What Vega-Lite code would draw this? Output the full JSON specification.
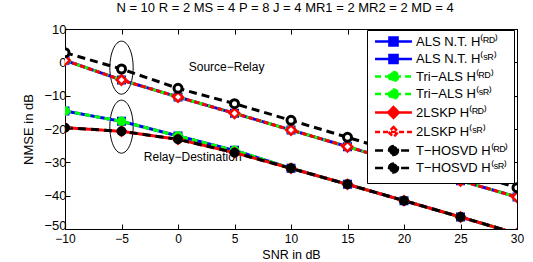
{
  "$schema": "https://vega.github.io/schema/vega-lite/v6.json",
  "width": 452,
  "height": 200,
  "autosize": "none",
  "padding": {"left": 65, "top": 29, "right": 16, "bottom": 33},
  "title": {"text": "N = 10 R = 2 MS = 4 P = 8 J = 4 MR1 = 2 MR2 = 2 MD = 4", "fontSize": 13, "font": "Liberation Sans", "fontWeight": "normal", "color": "black", "anchor": "middle", "dx": -6, "offset": 8},
  "config": {
    "font": "Liberation Sans",
    "view": {"stroke": "black", "strokeWidth": 1},
    "axis": {"grid": false, "domainColor": "black", "domainWidth": 1, "tickColor": "black", "tickWidth": 1, "tickSize": -5, "labelColor": "black", "labelFontSize": 13, "labelFont": "Liberation Sans", "titleFont": "Liberation Sans", "titleFontSize": 13, "titleFontWeight": "normal", "titleColor": "black", "labelPadding": 4}
  },
  "datasets": {
    "curves": [
      {"series": "ALS N.T. H⁽ᴿᴰ⁾", "snr": -10, "nmse": -14.6}, {"series": "ALS N.T. H⁽ᴿᴰ⁾", "snr": -5, "nmse": -17.7}, {"series": "ALS N.T. H⁽ᴿᴰ⁾", "snr": 0, "nmse": -22.1}, {"series": "ALS N.T. H⁽ᴿᴰ⁾", "snr": 5, "nmse": -26.4}, {"series": "ALS N.T. H⁽ᴿᴰ⁾", "snr": 10, "nmse": -31.8}, {"series": "ALS N.T. H⁽ᴿᴰ⁾", "snr": 15, "nmse": -36.6}, {"series": "ALS N.T. H⁽ᴿᴰ⁾", "snr": 20, "nmse": -41.5}, {"series": "ALS N.T. H⁽ᴿᴰ⁾", "snr": 25, "nmse": -46.4}, {"series": "ALS N.T. H⁽ᴿᴰ⁾", "snr": 30, "nmse": -51.4},
      {"series": "ALS N.T. H⁽ˢᴿ⁾", "snr": -10, "nmse": 0.6}, {"series": "ALS N.T. H⁽ˢᴿ⁾", "snr": -5, "nmse": -5.3}, {"series": "ALS N.T. H⁽ˢᴿ⁾", "snr": 0, "nmse": -10.4}, {"series": "ALS N.T. H⁽ˢᴿ⁾", "snr": 5, "nmse": -15.3}, {"series": "ALS N.T. H⁽ˢᴿ⁾", "snr": 10, "nmse": -20.3}, {"series": "ALS N.T. H⁽ˢᴿ⁾", "snr": 15, "nmse": -25.3}, {"series": "ALS N.T. H⁽ˢᴿ⁾", "snr": 20, "nmse": -30.4}, {"series": "ALS N.T. H⁽ˢᴿ⁾", "snr": 25, "nmse": -35.5}, {"series": "ALS N.T. H⁽ˢᴿ⁾", "snr": 30, "nmse": -40.4},
      {"series": "Tri−ALS H⁽ᴿᴰ⁾", "snr": -10, "nmse": -14.6}, {"series": "Tri−ALS H⁽ᴿᴰ⁾", "snr": -5, "nmse": -17.7}, {"series": "Tri−ALS H⁽ᴿᴰ⁾", "snr": 0, "nmse": -22.1}, {"series": "Tri−ALS H⁽ᴿᴰ⁾", "snr": 5, "nmse": -26.4}, {"series": "Tri−ALS H⁽ᴿᴰ⁾", "snr": 10, "nmse": -31.8}, {"series": "Tri−ALS H⁽ᴿᴰ⁾", "snr": 15, "nmse": -36.6}, {"series": "Tri−ALS H⁽ᴿᴰ⁾", "snr": 20, "nmse": -41.5}, {"series": "Tri−ALS H⁽ᴿᴰ⁾", "snr": 25, "nmse": -46.4}, {"series": "Tri−ALS H⁽ᴿᴰ⁾", "snr": 30, "nmse": -51.4},
      {"series": "Tri−ALS H⁽ˢᴿ⁾", "snr": -10, "nmse": 0.6}, {"series": "Tri−ALS H⁽ˢᴿ⁾", "snr": -5, "nmse": -5.3}, {"series": "Tri−ALS H⁽ˢᴿ⁾", "snr": 0, "nmse": -10.4}, {"series": "Tri−ALS H⁽ˢᴿ⁾", "snr": 5, "nmse": -15.3}, {"series": "Tri−ALS H⁽ˢᴿ⁾", "snr": 10, "nmse": -20.3}, {"series": "Tri−ALS H⁽ˢᴿ⁾", "snr": 15, "nmse": -25.3}, {"series": "Tri−ALS H⁽ˢᴿ⁾", "snr": 20, "nmse": -30.4}, {"series": "Tri−ALS H⁽ˢᴿ⁾", "snr": 25, "nmse": -35.5}, {"series": "Tri−ALS H⁽ˢᴿ⁾", "snr": 30, "nmse": -40.4},
      {"series": "2LSKP H⁽ᴿᴰ⁾", "snr": -10, "nmse": -19.6}, {"series": "2LSKP H⁽ᴿᴰ⁾", "snr": -5, "nmse": -20.7}, {"series": "2LSKP H⁽ᴿᴰ⁾", "snr": 0, "nmse": -23.1}, {"series": "2LSKP H⁽ᴿᴰ⁾", "snr": 5, "nmse": -27.1}, {"series": "2LSKP H⁽ᴿᴰ⁾", "snr": 10, "nmse": -31.8}, {"series": "2LSKP H⁽ᴿᴰ⁾", "snr": 15, "nmse": -36.6}, {"series": "2LSKP H⁽ᴿᴰ⁾", "snr": 20, "nmse": -41.5}, {"series": "2LSKP H⁽ᴿᴰ⁾", "snr": 25, "nmse": -46.4}, {"series": "2LSKP H⁽ᴿᴰ⁾", "snr": 30, "nmse": -51.4},
      {"series": "2LSKP H⁽ˢᴿ⁾", "snr": -10, "nmse": 0.6}, {"series": "2LSKP H⁽ˢᴿ⁾", "snr": -5, "nmse": -5.3}, {"series": "2LSKP H⁽ˢᴿ⁾", "snr": 0, "nmse": -10.4}, {"series": "2LSKP H⁽ˢᴿ⁾", "snr": 5, "nmse": -15.3}, {"series": "2LSKP H⁽ˢᴿ⁾", "snr": 10, "nmse": -20.3}, {"series": "2LSKP H⁽ˢᴿ⁾", "snr": 15, "nmse": -25.3}, {"series": "2LSKP H⁽ˢᴿ⁾", "snr": 20, "nmse": -30.4}, {"series": "2LSKP H⁽ˢᴿ⁾", "snr": 25, "nmse": -35.5}, {"series": "2LSKP H⁽ˢᴿ⁾", "snr": 30, "nmse": -40.4},
      {"series": "T−HOSVD H⁽ᴿᴰ⁾", "snr": -10, "nmse": -19.6}, {"series": "T−HOSVD H⁽ᴿᴰ⁾", "snr": -5, "nmse": -20.7}, {"series": "T−HOSVD H⁽ᴿᴰ⁾", "snr": 0, "nmse": -23.1}, {"series": "T−HOSVD H⁽ᴿᴰ⁾", "snr": 5, "nmse": -27.1}, {"series": "T−HOSVD H⁽ᴿᴰ⁾", "snr": 10, "nmse": -31.8}, {"series": "T−HOSVD H⁽ᴿᴰ⁾", "snr": 15, "nmse": -36.6}, {"series": "T−HOSVD H⁽ᴿᴰ⁾", "snr": 20, "nmse": -41.5}, {"series": "T−HOSVD H⁽ᴿᴰ⁾", "snr": 25, "nmse": -46.4}, {"series": "T−HOSVD H⁽ᴿᴰ⁾", "snr": 30, "nmse": -51.4},
      {"series": "T−HOSVD H⁽ˢᴿ⁾", "snr": -10, "nmse": 2.9}, {"series": "T−HOSVD H⁽ˢᴿ⁾", "snr": -5, "nmse": -2.0}, {"series": "T−HOSVD H⁽ˢᴿ⁾", "snr": 0, "nmse": -7.8}, {"series": "T−HOSVD H⁽ˢᴿ⁾", "snr": 5, "nmse": -12.4}, {"series": "T−HOSVD H⁽ˢᴿ⁾", "snr": 10, "nmse": -17.4}, {"series": "T−HOSVD H⁽ˢᴿ⁾", "snr": 15, "nmse": -22.5}, {"series": "T−HOSVD H⁽ˢᴿ⁾", "snr": 20, "nmse": -27.6}, {"series": "T−HOSVD H⁽ˢᴿ⁾", "snr": 25, "nmse": -32.6}, {"series": "T−HOSVD H⁽ˢᴿ⁾", "snr": 30, "nmse": -37.6}
    ],
    "ellipses": [{"snr": -5, "nmse": -1.6}, {"snr": -5, "nmse": -19.3}],
    "notes": [{"snr": 4.3, "nmse": -1.5, "label": "Source−Relay"}, {"snr": 1.3, "nmse": -28.3, "label": "Relay−Destination"}]
  },
  "resolve": {"axis": {"x": "independent", "y": "independent"}},
  "layer": [
    {
      "data": {"name": "ellipses"},
      "mark": {"type": "point", "shape": "M0,-1A0.44,1 0 1,1 0,1A0.44,1 0 1,1 0,-1Z", "size": 2809, "filled": false, "stroke": "black", "strokeWidth": 1, "opacity": 1},
      "encoding": {
        "x": {"field": "snr", "type": "quantitative", "axis": null, "scale": {"domain": [-10, 30], "nice": false}},
        "y": {"field": "nmse", "type": "quantitative", "axis": null, "scale": {"domain": [-50, 10], "nice": false}}
      }
    },
    {
      "data": {"name": "notes"},
      "mark": {"type": "text", "fontSize": 12, "font": "Liberation Sans", "color": "black"},
      "encoding": {
        "x": {"field": "snr", "type": "quantitative", "axis": null},
        "y": {"field": "nmse", "type": "quantitative", "axis": null},
        "text": {"field": "label"}
      }
    },
    {
      "data": {"name": "curves"},
      "mark": {"type": "line", "strokeWidth": 3, "clip": true},
      "encoding": {
        "x": {"field": "snr", "type": "quantitative", "title": "SNR in dB", "axis": {"values": [-10, -5, 0, 5, 10, 15, 20, 25, 30], "labelFlush": false, "labelFontSize": 12, "labelPadding": 9, "titleFontSize": 12.5, "titleY": 29, "titleBaseline": "alphabetic"}},
        "y": {"field": "nmse", "type": "quantitative", "title": "NMSE in dB", "axis": {"values": [-50, -40, -30, -20, -10, 0, 10], "titleX": -33, "titleBaseline": "alphabetic", "labelBaseline": {"condition": {"test": "datum.value == -50", "value": "alphabetic"}, "value": "middle"}}},
        "stroke": {"field": "series", "type": "nominal",
          "scale": {"domain": ["ALS N.T. H⁽ᴿᴰ⁾", "ALS N.T. H⁽ˢᴿ⁾", "Tri−ALS H⁽ᴿᴰ⁾", "Tri−ALS H⁽ˢᴿ⁾", "2LSKP H⁽ᴿᴰ⁾", "2LSKP H⁽ˢᴿ⁾", "T−HOSVD H⁽ᴿᴰ⁾", "T−HOSVD H⁽ˢᴿ⁾"], "range": ["#0000ff", "#0000ff", "#00ff00", "#00ff00", "#ff0000", "#ff0000", "#000000", "#000000"]}},
        "strokeDash": {"field": "series", "type": "nominal",
          "scale": {"domain": ["ALS N.T. H⁽ᴿᴰ⁾", "ALS N.T. H⁽ˢᴿ⁾", "Tri−ALS H⁽ᴿᴰ⁾", "Tri−ALS H⁽ˢᴿ⁾", "2LSKP H⁽ᴿᴰ⁾", "2LSKP H⁽ˢᴿ⁾", "T−HOSVD H⁽ᴿᴰ⁾", "T−HOSVD H⁽ˢᴿ⁾"], "range": [[1, 0], [1, 0], [6, 4], [6, 4], [1, 0], [5, 3], [8, 5], [8, 5]]}}
      }
    },
    {
      "data": {"name": "curves"},
      "transform": [{"filter": {"field": "snr", "equal": -10}}],
      "mark": {"type": "point", "filled": true, "opacity": 0},
      "encoding": {
        "x": {"field": "snr", "type": "quantitative", "axis": {"orient": "top", "labels": false, "title": null, "values": [-10, -5, 0, 5, 10, 15, 20, 25, 30]}},
        "y": {"field": "nmse", "type": "quantitative", "axis": {"orient": "right", "labels": false, "title": null, "values": [-50, -40, -30, -20, -10, 0, 10]}},
        "shape": {"field": "series", "type": "nominal",
          "scale": {"domain": ["ALS N.T. H⁽ᴿᴰ⁾", "ALS N.T. H⁽ˢᴿ⁾", "Tri−ALS H⁽ᴿᴰ⁾", "Tri−ALS H⁽ˢᴿ⁾", "2LSKP H⁽ᴿᴰ⁾", "2LSKP H⁽ˢᴿ⁾", "T−HOSVD H⁽ᴿᴰ⁾", "T−HOSVD H⁽ˢᴿ⁾"], "range": ["M-4.1,0H4.1M-0.9,-0.9H0.9V0.9H-0.9Z", "M-4.1,0H4.1M-0.9,-0.9H0.9V0.9H-0.9Z", "M-4.1,0H4.1M1,0A1,1 0 1,1 -1,0A1,1 0 1,1 1,0Z", "M-4.1,0H4.1M1,0A1,1 0 1,1 -1,0A1,1 0 1,1 1,0Z", "M-4.1,0H4.1M0,-1.2L1.2,0L0,1.2L-1.2,0Z", "M-4.1,0H4.1M0,-1.1L1.1,0L0,1.1L-1.1,0Z", "M-4.1,0H4.1M1,0A1,1 0 1,1 -1,0A1,1 0 1,1 1,0Z", "M-4.1,0H4.1M1,0A1,1 0 1,1 -1,0A1,1 0 1,1 1,0Z"]},
          "legend": {"title": null, "orient": "none", "legendX": 302, "legendY": 1, "fillColor": "white", "strokeColor": "black", "padding": 5, "labelFontSize": 13, "labelFont": "Liberation Sans", "labelColor": "black", "symbolSize": 81, "symbolStrokeWidth": 2.5, "symbolOpacity": 1, "symbolOffset": 15, "labelOffset": 16, "rowPadding": -1.5}},
        "fill": {"field": "series", "type": "nominal",
          "scale": {"domain": ["ALS N.T. H⁽ᴿᴰ⁾", "ALS N.T. H⁽ˢᴿ⁾", "Tri−ALS H⁽ᴿᴰ⁾", "Tri−ALS H⁽ˢᴿ⁾", "2LSKP H⁽ᴿᴰ⁾", "2LSKP H⁽ˢᴿ⁾", "T−HOSVD H⁽ᴿᴰ⁾", "T−HOSVD H⁽ˢᴿ⁾"], "range": ["#0000ff", "#0000ff", "#00ff00", "#00ff00", "#ff0000", "#ffffff", "#000000", "#000000"]},
          "legend": {"title": null, "orient": "none", "legendX": 302, "legendY": 1, "fillColor": "white", "strokeColor": "black", "padding": 5, "labelFontSize": 13, "labelFont": "Liberation Sans", "labelColor": "black", "symbolSize": 81, "symbolStrokeWidth": 2.5, "symbolOpacity": 1, "symbolOffset": 15, "labelOffset": 16, "rowPadding": -1.5}},
        "stroke": {"field": "series", "type": "nominal",
          "legend": {"title": null, "orient": "none", "legendX": 302, "legendY": 1, "fillColor": "white", "strokeColor": "black", "padding": 5, "labelFontSize": 13, "labelFont": "Liberation Sans", "labelColor": "black", "symbolSize": 81, "symbolStrokeWidth": 2.5, "symbolOpacity": 1, "symbolOffset": 15, "labelOffset": 16, "rowPadding": -1.5}},
        "strokeDash": {"field": "series", "type": "nominal",
          "legend": {"title": null, "orient": "none", "legendX": 302, "legendY": 1, "fillColor": "white", "strokeColor": "black", "padding": 5, "labelFontSize": 13, "labelFont": "Liberation Sans", "labelColor": "black", "symbolSize": 81, "symbolStrokeWidth": 2.5, "symbolOpacity": 1, "symbolOffset": 15, "labelOffset": 16, "rowPadding": -1.5}}
      }
    },
    {
      "data": {"name": "curves"},
      "transform": [{"filter": {"field": "series", "oneOf": ["ALS N.T. H⁽ᴿᴰ⁾", "ALS N.T. H⁽ˢᴿ⁾"]}}],
      "mark": {"type": "point", "shape": "square", "size": 49, "fill": "#0000ff", "stroke": "#0000ff", "strokeWidth": 2, "opacity": 1, "filled": true, "clip": true},
      "encoding": {"x": {"field": "snr", "type": "quantitative", "axis": null}, "y": {"field": "nmse", "type": "quantitative", "axis": null}}
    },
    {
      "data": {"name": "curves"},
      "transform": [{"filter": {"field": "series", "oneOf": ["Tri−ALS H⁽ᴿᴰ⁾", "Tri−ALS H⁽ˢᴿ⁾"]}}],
      "mark": {"type": "point", "shape": "circle", "size": 60, "fill": "#00ff00", "stroke": "#00ff00", "strokeWidth": 2, "opacity": 1, "filled": true, "clip": true},
      "encoding": {"x": {"field": "snr", "type": "quantitative", "axis": null}, "y": {"field": "nmse", "type": "quantitative", "axis": null}}
    },
    {
      "data": {"name": "curves"},
      "transform": [{"filter": {"field": "series", "equal": "2LSKP H⁽ᴿᴰ⁾"}}],
      "mark": {"type": "point", "shape": "diamond", "size": 90, "fill": "#ff0000", "stroke": "#ff0000", "strokeWidth": 2, "opacity": 1, "filled": true, "clip": true},
      "encoding": {"x": {"field": "snr", "type": "quantitative", "axis": null}, "y": {"field": "nmse", "type": "quantitative", "axis": null}}
    },
    {
      "data": {"name": "curves"},
      "transform": [{"filter": {"field": "series", "equal": "2LSKP H⁽ˢᴿ⁾"}}],
      "mark": {"type": "point", "shape": "diamond", "size": 90, "fill": "#ffffff", "stroke": "#ff0000", "strokeWidth": 2.5, "opacity": 1, "filled": true, "clip": true},
      "encoding": {"x": {"field": "snr", "type": "quantitative", "axis": null}, "y": {"field": "nmse", "type": "quantitative", "axis": null}}
    },
    {
      "data": {"name": "curves"},
      "transform": [{"filter": {"field": "series", "equal": "T−HOSVD H⁽ᴿᴰ⁾"}}],
      "mark": {"type": "point", "shape": "circle", "size": 64, "fill": "#000000", "stroke": "#000000", "strokeWidth": 2, "opacity": 1, "filled": true, "clip": true},
      "encoding": {"x": {"field": "snr", "type": "quantitative", "axis": null}, "y": {"field": "nmse", "type": "quantitative", "axis": null}}
    },
    {
      "data": {"name": "curves"},
      "transform": [{"filter": {"field": "series", "equal": "T−HOSVD H⁽ˢᴿ⁾"}}],
      "mark": {"type": "point", "shape": "circle", "size": 64, "fill": "#ffffff", "stroke": "#000000", "strokeWidth": 3, "opacity": 1, "filled": true, "clip": true},
      "encoding": {"x": {"field": "snr", "type": "quantitative", "axis": null}, "y": {"field": "nmse", "type": "quantitative", "axis": null}}
    }
  ]
}
